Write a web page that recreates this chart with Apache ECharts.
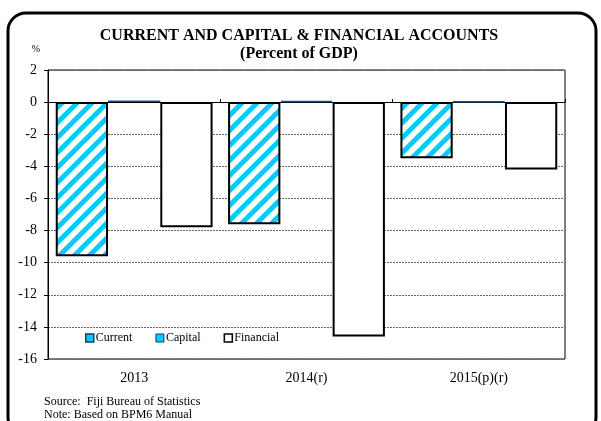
<!DOCTYPE html>
<html>
<head>
<meta charset="utf-8">
<script src="https://cdn.jsdelivr.net/npm/echarts@6/dist/echarts.min.js"></script>
<style>
  html, body { margin: 0; padding: 0; background: #fff; }
  #chart { width: 601px; height: 421px; }
</style>
</head>
<body>
<div id="chart"></div>
<script>
// Balance of payments accounts, percent of GDP
const years = ['2013', '2014(r)', '2015(p)(r)'];
const currentAcc = [-9.6, -7.6, -3.5];
const capitalAcc = [0.1, 0.08, 0.03];
const financialAcc = [-7.8, -14.6, -4.2];
const yTicks = { min: -16, max: 2, step: 2 };

const SERIF = '"Liberation Serif", "Times New Roman", serif';
const CYAN = '#00CCFF';

// diagonal cyan hatching for the current account bars; strokes run past the
// tile edges so the repeated tiles join without seams
function hatch() {
  const s = 30;
  const c = document.createElement('canvas');
  c.width = s; c.height = s;
  const g = c.getContext('2d');
  g.fillStyle = '#fff';
  g.fillRect(0, 0, s, s);
  g.strokeStyle = CYAN;
  g.lineWidth = 5;
  g.beginPath();
  for (let o = -2 * s; o <= 2 * s; o += s / 2) {
    g.moveTo(o - s, 2 * s);
    g.lineTo(o + 2 * s, -s);
  }
  g.stroke();
  return c;
}

const chart = echarts.init(document.getElementById('chart'), null, { renderer: 'canvas' });

chart.setOption({
  animation: false,
  backgroundColor: '#fff',
  textStyle: { fontFamily: SERIF, color: '#000' },
  title: {
    text: 'CURRENT AND CAPITAL & FINANCIAL ACCOUNTS\n(Percent of GDP)',
    left: 294, top: 22, textAlign: 'center',
    textStyle: { fontFamily: SERIF, fontWeight: 'bold', fontSize: 16, lineHeight: 18, color: '#000' }
  },
  grid: {
    left: 48, right: 36, top: 70, bottom: 62,
    show: true, borderColor: '#000', borderWidth: 1, backgroundColor: 'transparent'
  },
  legend: {
    left: 80, top: 327,
    itemWidth: 8, itemHeight: 8, itemGap: 23,
    icon: 'rect',
    textStyle: { fontFamily: SERIF, fontSize: 12, color: '#000', padding: [0, 0, 0, -3] },
    data: [
      { name: 'Current', itemStyle: { color: CYAN, borderColor: '#1F3864', borderWidth: 1.5 } },
      { name: 'Capital', itemStyle: { color: CYAN, borderColor: '#1F3864', borderWidth: 1 } },
      { name: 'Financial', itemStyle: { color: '#fff', borderColor: '#000', borderWidth: 1.5 } }
    ]
  },
  xAxis: [
    {
      type: 'category', data: years, position: 'bottom',
      axisLine: { show: false, onZero: false }, axisTick: { show: false },
      axisLabel: { fontFamily: SERIF, fontSize: 14, color: '#000', margin: 12 }
    },
    {
      type: 'category', data: years,
      axisLine: { show: true, onZero: true, lineStyle: { color: '#000', width: 1 } },
      axisTick: { show: true, inside: false, length: 3, lineStyle: { color: '#000' } },
      axisLabel: { show: false }
    }
  ],
  yAxis: {
    type: 'value', min: yTicks.min, max: yTicks.max, interval: yTicks.step,
    name: '%', nameLocation: 'end', nameGap: 16,
    nameTextStyle: { fontFamily: SERIF, fontSize: 10, color: '#000', align: 'right', padding: [0, 8, 0, 0] },
    axisLine: { show: true, lineStyle: { color: '#000', width: 1 } },
    axisTick: { show: true, length: 4, lineStyle: { color: '#000' } },
    axisLabel: { fontFamily: SERIF, fontSize: 14, color: '#000', margin: 11 },
    splitLine: { show: true, lineStyle: { color: '#666', type: [2, 1], width: 1 } }
  },
  series: [
    {
      name: 'Current', type: 'bar', data: currentAcc,
      barGap: '0%', barCategoryGap: '9%',
      itemStyle: { color: { image: hatch(), repeat: 'repeat' }, borderColor: '#000', borderWidth: 2 }
    },
    {
      name: 'Capital', type: 'bar', data: capitalAcc,
      itemStyle: { color: CYAN, borderColor: '#1F4E79', borderWidth: 1.5 }
    },
    {
      name: 'Financial', type: 'bar', data: financialAcc,
      itemStyle: { color: '#fff', borderColor: '#000', borderWidth: 2 }
    }
  ],
  graphic: [
    {
      type: 'rect', silent: true, z: 100,
      shape: { x: 8, y: 13, width: 588, height: 422, r: 18 },
      style: { fill: 'none', stroke: '#000', lineWidth: 3 }
    },
    {
      type: 'text', left: 44, top: 395, z: 100,
      style: { text: 'Source:  Fiji Bureau of Statistics\nNote: Based on BPM6 Manual', font: '12px ' + SERIF, fill: '#000', lineHeight: 13 }
    }
  ]
});
</script>
</body>
</html>
